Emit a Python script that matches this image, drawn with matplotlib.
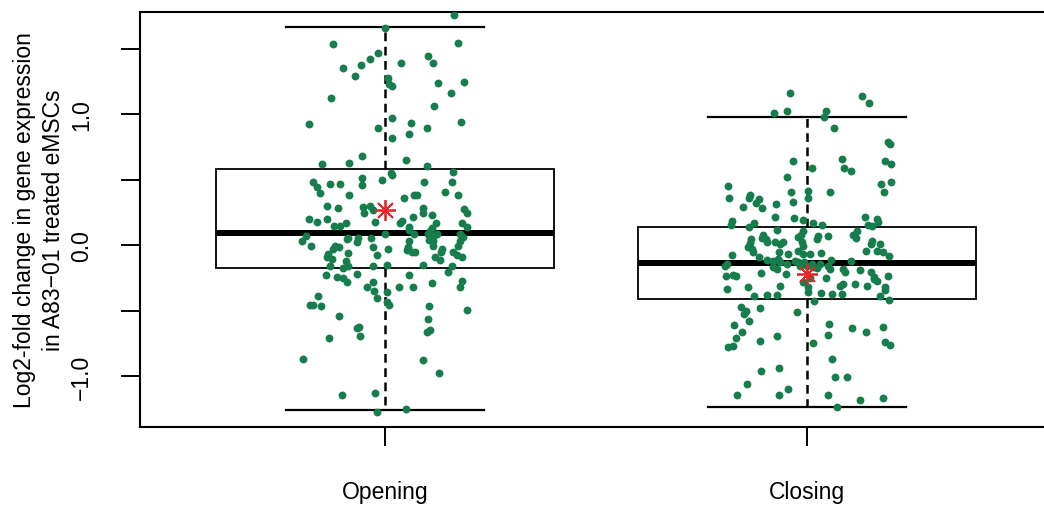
import matplotlib
matplotlib.use("Agg")
import matplotlib.pyplot as plt
import numpy as np

### Data
########

groups = ['Opening', 'Closing']

# box summaries (log2 fold change)
q1 = [-0.176, -0.412]
med = [0.092, -0.137]
q3 = [0.580, 0.137]
whislo = [-1.26, -1.237]
whishi = [1.664, 0.977]
means = [0.267, -0.220]

# individual genes: horizontal jitter and log2 fold change
open_jit = [0.164, 0.0, -0.123, 0.173, -0.017, -0.036, -0.057, -0.100, 0.038, 0.102,
            0.114, -0.071, 0.007, 0.009, 0.017, 0.126, 0.187, 0.156, -0.128, 0.116,
            0.017, -0.180, -0.017, 0.062, 0.100, 0.180, 0.057, 0.017, -0.055, 0.050,
            -0.149, -0.085, 0.100, 0.161, 0.014, 0.017, -0.007, -0.055, -0.055, -0.171,
            -0.161, -0.154, -0.130, -0.107, -0.085, 0.092, 0.159, 0.142, 0.173, 0.069,
            0.076, 0.045, -0.137, -0.111, -0.052, -0.050, -0.036, -0.028, 0.090, 0.090,
            0.111, 0.187, 0.194, -0.180, -0.161, -0.137, -0.121, -0.107, -0.092, -0.024,
            0.040, 0.036, 0.066, 0.057, 0.057, 0.121, 0.111, 0.182, 0.194, -0.187,
            -0.197, 0.0, -0.088, -0.064, -0.033, 0.069, 0.107, 0.102, 0.114, 0.123,
            0.178, 0.185, 0.057, 0.104, 0.114, -0.175, -0.118, -0.109, -0.123, -0.090,
            -0.066, -0.028, 0.007, 0.055, 0.052, 0.064, 0.071, 0.114, 0.135, 0.133,
            0.173, 0.178, -0.135, -0.137, -0.126, -0.130, -0.088, -0.019, -0.092, -0.088,
            -0.028, 0.005, 0.090, 0.118, 0.130, 0.161, 0.171, 0.182, 0.159, 0.149,
            -0.100, -0.140, -0.114, -0.100, -0.090, -0.066, 0.057, -0.028, -0.043, -0.026,
            -0.019, 0.005, 0.005, 0.009, 0.033, 0.066, 0.111, 0.182, 0.178, -0.159,
            -0.178, -0.171, -0.152, -0.109, 0.104, 0.102, 0.194, -0.066, -0.062, -0.059,
            -0.133, 0.100, 0.107, -0.194, 0.090, 0.128, -0.102, -0.024, -0.019, 0.050]
open_val = [1.756, 1.656, 1.534, 1.542, 1.466, 1.420, 1.374, 1.351, 1.389, 1.443,
            1.389, 1.290, 1.275, 1.229, 1.214, 1.237, 1.244, 1.160, 1.122, 1.061,
            0.969, 0.924, 0.893, 0.931, 0.893, 0.939, 0.847, 0.817, 0.679, 0.649,
            0.618, 0.626, 0.603, 0.557, 0.550, 0.534, 0.496, 0.511, 0.458, 0.481,
            0.443, 0.397, 0.466, 0.466, 0.382, 0.481, 0.481, 0.405, 0.382, 0.382,
            0.382, 0.359, 0.298, 0.282, 0.290, 0.244, 0.298, 0.267, 0.282, 0.244,
            0.229, 0.275, 0.244, 0.198, 0.176, 0.198, 0.145, 0.145, 0.168, 0.176,
            0.183, 0.168, 0.214, 0.137, 0.115, 0.168, 0.130, 0.168, 0.137, 0.069,
            0.031, 0.084, 0.053, 0.053, 0.053, 0.084, 0.107, 0.084, 0.061, 0.084,
            0.084, 0.061, 0.031, 0.038, 0.031, -0.008, -0.008, -0.015, -0.031, 0.046,
            0.023, -0.015, -0.031, -0.015, -0.038, -0.053, -0.053, -0.008, -0.031, -0.053,
            -0.008, 0.031, -0.069, -0.092, -0.107, -0.160, -0.061, -0.076, -0.122, -0.160,
            -0.160, -0.153, -0.153, -0.092, -0.115, -0.053, -0.076, -0.092, -0.160, -0.206,
            -0.176, -0.229, -0.244, -0.252, -0.282, -0.221, -0.229, -0.282, -0.321, -0.351,
            -0.405, -0.359, -0.435, -0.458, -0.321, -0.321, -0.290, -0.275, -0.321, -0.389,
            -0.458, -0.458, -0.466, -0.542, -0.466, -0.565, -0.496, -0.634, -0.626, -0.695,
            -0.710, -0.664, -0.649, -0.870, -0.878, -0.977, -1.145, -1.130, -1.275, -1.252]

close_jit = [-0.040, 0.130, 0.147, -0.078, -0.047, 0.045, 0.040, 0.064, 0.192, 0.197,
             -0.033, 0.083, 0.012, 0.088, 0.104, 0.185, 0.199, -0.047, -0.187, 0.175,
             0.199, -0.185, -0.135, -0.137, -0.114, -0.121, -0.038, -0.033, 0.002, 0.002,
             0.055, 0.182, -0.152, -0.107, -0.073, -0.076, -0.031, -0.009, -0.178, -0.180,
             -0.126, -0.137, 0.014, 0.036, 0.137, 0.145, 0.154, 0.168, 0.166, -0.071,
             -0.009, -0.014, -0.021, -0.012, -0.009, 0.026, 0.024, 0.050, 0.118, 0.109,
             0.116, -0.104, -0.107, -0.097, -0.095, -0.133, -0.135, -0.140, -0.130, -0.128,
             -0.076, -0.064, -0.057, 0.154, 0.152, 0.173, 0.166, 0.140, 0.180, 0.194,
             -0.178, -0.066, -0.045, -0.021, -0.009, 0.007, 0.033, 0.057, -0.114, -0.095,
             -0.190, -0.194, -0.081, -0.069, -0.064, -0.081, -0.071, -0.047, -0.028, -0.021,
             -0.017, -0.007, 0.0, 0.012, 0.014, 0.024, 0.031, 0.050, 0.055, 0.104,
             0.085, 0.090, 0.126, 0.152, 0.159, 0.159, -0.175, -0.192, -0.168, -0.109,
             -0.050, 0.045, 0.007, -0.009, 0.192, 0.085, 0.114, -0.140, -0.064, 0.002,
             0.078, 0.142, 0.185, -0.190, -0.126, -0.095, -0.071, 0.002, 0.017, 0.033,
             0.059, 0.083, 0.166, 0.185, 0.173, 0.194, -0.156, -0.145, -0.149, -0.137,
             -0.111, -0.024, -0.173, -0.154, -0.168, -0.187, -0.175, -0.111, -0.071, 0.014,
             0.052, 0.050, 0.107, 0.140, 0.180, 0.185, 0.197, 0.059, -0.109, -0.066,
             0.066, 0.095, -0.142, -0.045, -0.166, -0.066, 0.050, 0.126, 0.180, 0.071]
close_val = [1.160, 1.137, 1.084, 1.008, 1.023, 1.023, 0.977, 0.893, 0.786, 0.771,
             0.641, 0.656, 0.588, 0.588, 0.565, 0.641, 0.618, 0.519, 0.450, 0.466,
             0.481, 0.359, 0.382, 0.359, 0.351, 0.321, 0.405, 0.328, 0.412, 0.359,
             0.405, 0.405, 0.290, 0.282, 0.313, 0.214, 0.206, 0.191, 0.183, 0.153,
             0.168, 0.137, 0.168, 0.153, 0.214, 0.153, 0.145, 0.176, 0.198, 0.115,
             0.107, 0.076, 0.061, 0.023, -0.008, 0.069, 0.046, 0.069, 0.107, 0.076,
             0.053, 0.076, 0.053, 0.046, 0.023, 0.046, 0.015, -0.015, -0.031, -0.053,
             0.023, 0.008, 0.023, 0.031, 0.008, 0.008, -0.046, -0.046, -0.053, -0.084,
             -0.076, -0.053, -0.069, -0.046, -0.069, -0.069, -0.061, -0.115, -0.092, -0.115,
             -0.145, -0.160, -0.122, -0.107, -0.130, -0.168, -0.183, -0.145, -0.122, -0.130,
             -0.160, -0.130, -0.160, -0.145, -0.168, -0.176, -0.145, -0.160, -0.183, -0.122,
             -0.183, -0.206, -0.191, -0.206, -0.244, -0.260, -0.229, -0.237, -0.237, -0.214,
             -0.221, -0.252, -0.252, -0.282, -0.237, -0.298, -0.298, -0.321, -0.313, -0.321,
             -0.313, -0.313, -0.321, -0.336, -0.389, -0.382, -0.382, -0.359, -0.427, -0.366,
             -0.374, -0.374, -0.275, -0.344, -0.389, -0.420, -0.473, -0.504, -0.527, -0.580,
             -0.481, -0.511, -0.611, -0.664, -0.710, -0.779, -0.771, -0.733, -0.695, -0.748,
             -0.603, -0.687, -0.634, -0.664, -0.626, -0.740, -0.763, -0.870, -0.962, -0.939,
             -1.008, -1.008, -1.061, -1.099, -1.145, -1.145, -1.145, -1.183, -1.168, -1.237]

### Figure
##########

plt.rcParams['font.family'] = ['Liberation Sans', 'DejaVu Sans']
plt.rcParams['font.size'] = 16.5

fig = plt.figure(figsize=(10.44, 5.06), dpi=100)
ax = fig.add_axes([140 / 1044, 1 - 428 / 506, 909 / 1044, 415 / 506])

pos = np.arange(1, len(groups) + 1)
stats = [dict(q1=q1[i], med=med[i], q3=q3[i], whislo=whislo[i], whishi=whishi[i],
              label=groups[i]) for i in range(len(groups))]
ax.bxp(stats, positions=pos, widths=0.8, capwidths=0.47, showfliers=False,
       patch_artist=True,
       boxprops=dict(facecolor='white', edgecolor='black', linewidth=1.3),
       medianprops=dict(color='black', linewidth=4.3, solid_capstyle='butt'),
       whiskerprops=dict(color='black', linewidth=1.8, linestyle=(0, (3.5, 2.2))),
       capprops=dict(color='black', linewidth=1.6))

green = '#167d4c'
ax.scatter(pos[0] + np.array(open_jit), open_val, s=32, color=green, lw=0, zorder=3)
ax.scatter(pos[1] + np.array(close_jit), close_val, s=32, color=green, lw=0, zorder=3)
ax.plot(pos, means, ls='none', marker=(8, 2, 0), ms=15, mew=1.3, color='#e5262b', zorder=4)

ax.set_xlim(1 - 245 / 422, 1 - 245 / 422 + 909 / 422)
ax.set_ylim(-182 / 131, 233 / 131)

yt = [-1.0, -0.5, 0.0, 0.5, 1.0, 1.5]
ax.set_yticks(yt)
ax.set_yticklabels([('%.1f' % v).replace('-', '\u2212') if v in (-1.0, 0.0, 1.0) else ''
                    for v in yt], rotation=90, va='center')
ax.set_xticks(pos)
ax.set_xticklabels(groups)
ax.tick_params(axis='both', length=14, width=1.4, colors='black')
ax.tick_params(axis='y', pad=20)
ax.tick_params(axis='x', pad=24)

for side in ['left', 'top', 'bottom', 'right']:
    ax.spines[side].set_linewidth(1.5)

fig.text(39 / 1044, 1 - 220 / 506,
         'Log2-fold change in gene expression\nin A83\u221201 treated eMSCs',
         rotation=90, ha='center', va='center', fontsize=16.5, linespacing=1.35)

fig.savefig('out.png', dpi=100)
